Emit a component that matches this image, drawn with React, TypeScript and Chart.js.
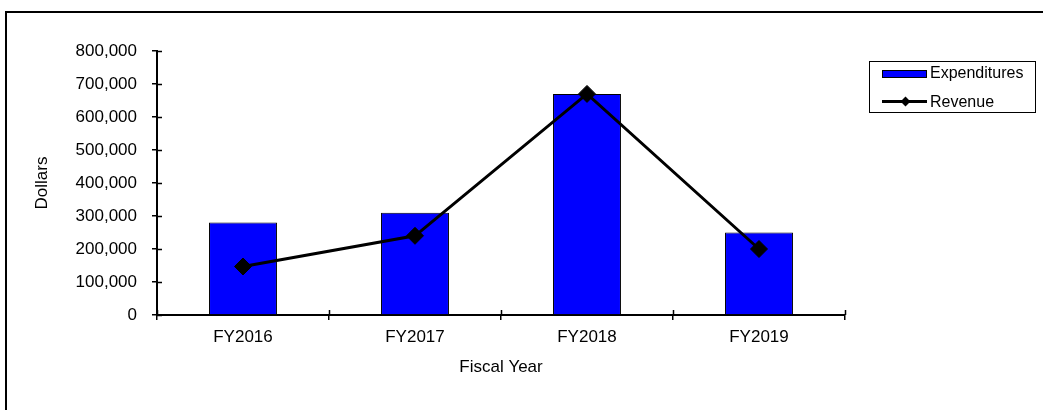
import React, { useEffect, useRef } from "react";
import { Chart, registerables } from "chart.js";

Chart.register(...registerables);

const categories = ["FY2016", "FY2017", "FY2018", "FY2019"];
const expenditures = [280000, 310000, 670000, 250000];
const revenue = [147000, 240000, 670000, 200000];
const yTicksMin = 0;
const yTicksMax = 800000;
const yTickStep = 100000;

const FONT = "'Liberation Sans', Arial, sans-serif";

const innerTicks = {
  id: "innerTicks",
  afterDraw(chart: any) {
    const { ctx, chartArea } = chart;
    const x = chart.scales.x;
    const y = chart.scales.y;
    ctx.save();
    ctx.strokeStyle = "#000";
    ctx.lineWidth = 1.5;
    ctx.beginPath();
    y.ticks.forEach((_: any, i: number) => {
      const py = Math.round(y.getPixelForTick(i)) + 0.5;
      ctx.moveTo(chartArea.left, py);
      ctx.lineTo(chartArea.left + 5, py);
    });
    const n = categories.length;
    for (let i = 0; i <= n; i++) {
      const px = Math.round(x.left + (i * (x.right - x.left)) / n) + 0.5;
      ctx.moveTo(px, chartArea.bottom);
      ctx.lineTo(px, chartArea.bottom - 5);
    }
    ctx.stroke();
    ctx.restore();
  },
};

export default function App() {
  const ref = useRef<HTMLCanvasElement | null>(null);
  useEffect(() => {
    document.body.style.margin = "0";
    document.body.style.overflow = "hidden";
    const chart = new Chart(ref.current as HTMLCanvasElement, {
      type: "bar",
      data: {
        labels: categories,
        datasets: [
          {
            type: "line",
            label: "Revenue",
            data: revenue,
            borderColor: "#000",
            backgroundColor: "#000",
            borderWidth: 3,
            pointStyle: "rectRot",
            pointRadius: 8.5,
            pointBackgroundColor: "#000",
            pointBorderColor: "#000",
            pointBorderWidth: 1,
            tension: 0,
            order: 0,
          } as any,
          {
            type: "bar",
            label: "Expenditures",
            data: expenditures,
            backgroundColor: "#0000FF",
            borderColor: "#000",
            borderWidth: 1,
            categoryPercentage: 1,
            barPercentage: 0.395,
            order: 1,
          },
        ],
      },
      options: {
        animation: false,
        responsive: false,
        maintainAspectRatio: false,
        layout: { padding: { top: 51, right: 198, left: 0, bottom: 0 } },
        plugins: { legend: { display: false }, tooltip: { enabled: false } },
        scales: {
          x: {
            grid: {
              display: true,
              drawOnChartArea: false,
              drawTicks: true,
              tickLength: 5,
              color: "#000",
              lineWidth: 1.5,
              offset: true,
            },
            border: { display: true, color: "#000", width: 2 },
            ticks: { color: "#000", font: { family: FONT, size: 17 }, padding: 7 },
            title: {
              display: true,
              text: "Fiscal Year",
              color: "#000",
              font: { family: FONT, size: 17 },
              padding: { top: 0, bottom: 32.8 },
            },
            afterFit(scale: any) {
              scale.height = 95;
            },
          },
          y: {
            min: yTicksMin,
            max: yTicksMax,
            grid: {
              display: true,
              drawOnChartArea: false,
              drawTicks: true,
              tickLength: 5,
              color: "#000",
              lineWidth: 1.5,
            },
            border: { display: true, color: "#000", width: 2 },
            ticks: {
              stepSize: yTickStep,
              color: "#000",
              font: { family: FONT, size: 17 },
              padding: 15,
              callback: (v: any) => Number(v).toLocaleString("en-US"),
            },
            title: {
              display: true,
              text: "Dollars",
              color: "#000",
              font: { family: FONT, size: 17 },
              padding: { top: 31.8, bottom: 0 },
            },
            afterFit(scale: any) {
              scale.width = 157;
            },
          },
        },
      },
      plugins: [innerTicks],
    });
    return () => chart.destroy();
  }, []);

  const textStyle: React.CSSProperties = {
    position: "absolute",
    left: 930,
    fontFamily: FONT,
    fontSize: 16,
    lineHeight: "18px",
    color: "#000",
    whiteSpace: "nowrap",
  };

  return (
    <div style={{ position: "fixed", left: 0, top: 0, width: 1043, height: 410, background: "#fff" }}>
      <canvas ref={ref} width={1043} height={410} style={{ position: "absolute", left: 0, top: 0 }} />
      <div
        style={{
          position: "absolute",
          left: 5,
          top: 11,
          right: -10,
          bottom: -10,
          borderLeft: "2px solid #000",
          borderTop: "2px solid #000",
          pointerEvents: "none",
        }}
      />
      <div
        style={{
          position: "absolute",
          left: 869,
          top: 61,
          width: 167,
          height: 52,
          border: "1px solid #000",
          boxSizing: "border-box",
        }}
      />
      <div
        style={{
          position: "absolute",
          left: 882,
          top: 70,
          width: 45,
          height: 8,
          background: "#0000FF",
          border: "1px solid #000",
          boxSizing: "border-box",
        }}
      />
      <div style={{ ...textStyle, top: 64 }}>Expenditures</div>
      <div style={{ position: "absolute", left: 882, top: 100, width: 45, height: 3, background: "#000" }} />
      <div
        style={{
          position: "absolute",
          left: 901.5,
          top: 98,
          width: 7,
          height: 7,
          background: "#000",
          transform: "rotate(45deg)",
        }}
      />
      <div style={{ ...textStyle, top: 93 }}>Revenue</div>
    </div>
  );
}
